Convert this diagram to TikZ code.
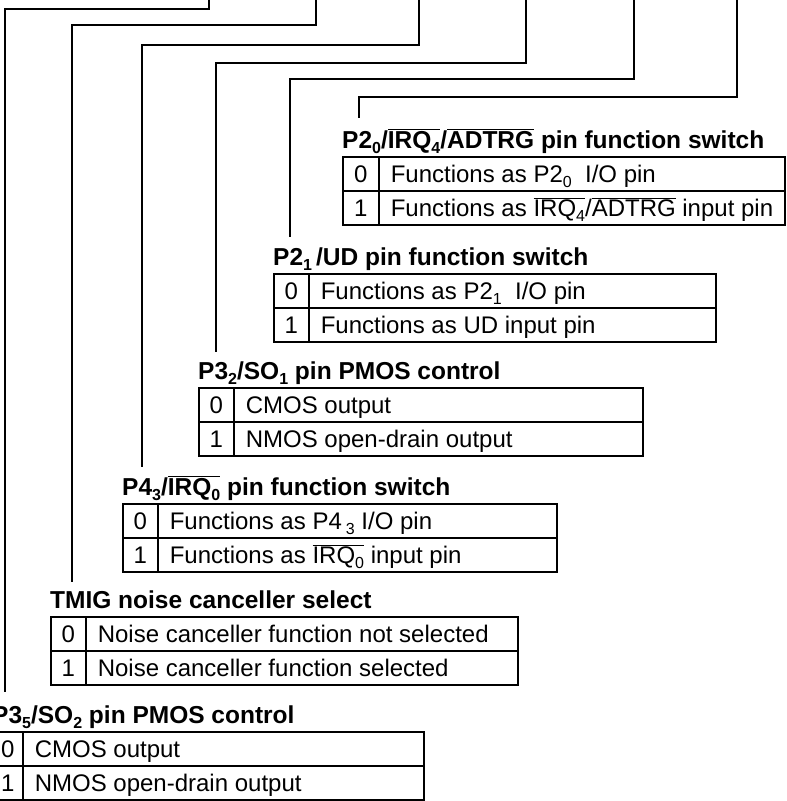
\documentclass[tikz,border=0pt]{standalone}
\usepackage{fontspec}
\setmainfont{Liberation Sans}
\newcommand\lowsub[1]{\raisebox{-0.42ex}{\fontsize{16}{16}\selectfont #1}}
\newcommand\ovl[1]{\ensuremath{\overline{\hbox{#1}}}}
\tikzset{
  lead/.style={line width=1.4pt},
  ttl/.style={anchor=base west, inner sep=0pt, font=\fontsize{24.5}{28}\selectfont\bfseries},
  numcell/.style={draw, line width=1.6pt, anchor=north west, inner sep=0pt,
    minimum height=34pt, text height=17pt, text depth=0pt, font=\fontsize{24}{28}\selectfont},
  txtcell/.style={draw, line width=1.6pt, anchor=north west, inner xsep=12pt, inner ysep=0pt,
    minimum height=34pt, text height=17pt, text depth=0pt,
    font=\fontsize{24}{28}\selectfont},
}
\newcommand\regtable[8]{%
  \pgfmathsetmacro\cellnw{#3-#2}%
  \pgfmathsetmacro\celltw{#4-#3-24}%
  \node[ttl] (#1-title) at (#2, #5+8) {#6};
  \node[numcell, minimum width=\cellnw pt] (#1-n0) at (#2, #5+16) {0};
  \node[txtcell] (#1-t0) at (#3, #5+16) {\makebox[\celltw pt][l]{#7}};
  \node[numcell, minimum width=\cellnw pt] (#1-n1) at (#2, #5+50) {1};
  \node[txtcell] (#1-t1) at (#3, #5+50) {\makebox[\celltw pt][l]{#8}};
}
\begin{document}
\begin{tikzpicture}[x=1pt,y=-1pt]
\useasboundingbox (0,0) rectangle (787,801);

\regtable{a}{342}{378}{784}{140}
  {P2\lowsub{0}/\ovl{IRQ\lowsub{4}}/\ovl{ADTRG} pin function switch}
  {Functions as P2\lowsub{0}\ \ I/O pin}
  {Functions as \ovl{IRQ\lowsub{4}}/\ovl{ADTRG} input pin}
\regtable{b}{273}{308}{715}{257}
  {P2\lowsub{1}\,/UD pin function switch}
  {Functions as P2\lowsub{1}\ \ I/O pin}
  {Functions as UD input pin}
\regtable{c}{198}{233}{642}{371}
  {P3\lowsub{2}/SO\lowsub{1} pin PMOS control}
  {CMOS output}
  {NMOS open-drain output}
\regtable{d}{122}{157}{556}{487}
  {P4\lowsub{3}/\ovl{IRQ\lowsub{0}} pin function switch}
  {Functions as P4\,\lowsub{3} I/O pin}
  {Functions as \ovl{IRQ\lowsub{0}} input pin}
\regtable{e}{50}{85}{517}{600}
  {TMIG noise canceller select}
  {Noise canceller function not selected}
  {Noise canceller function selected}
\regtable{f}{-8}{22}{423}{715}
  {P3\lowsub{5}/SO\lowsub{2} pin PMOS control}
  {CMOS output}
  {NMOS open-drain output}

% leader lines
\coordinate (s1) at (209,-2);  \coordinate (b1) at (209,9);  \coordinate (e1) at (5,692);
\coordinate (s2) at (316,-2);  \coordinate (b2) at (316,25); \coordinate (e2) at (72,582);
\coordinate (s3) at (419,-2);  \coordinate (b3) at (419,45); \coordinate (e3) at (142,467);
\coordinate (s4) at (526,-2);  \coordinate (b4) at (526,63); \coordinate (e4) at (216,352);
\coordinate (s5) at (634,-2);  \coordinate (b5) at (634,79); \coordinate (e5) at (290,237);
\coordinate (s6) at (737,-2);  \coordinate (b6) at (737,97); \coordinate (e6) at (359,118);
\foreach \i in {1,...,6} {
  \draw[lead] (s\i) -- (b\i) -| (e\i);
}
\end{tikzpicture}
\end{document}
